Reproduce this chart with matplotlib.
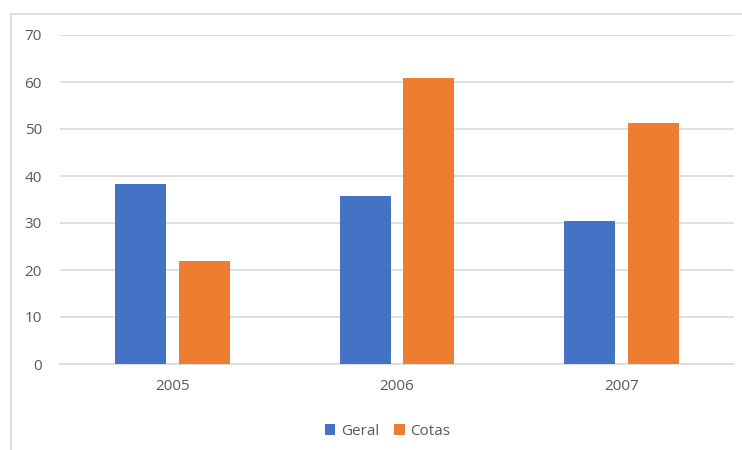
import numpy as np
import matplotlib.pyplot as plt
from matplotlib.patches import Rectangle

years = ["2005", "2006", "2007"]
geral = [38.4, 35.7, 30.5]
cotas = [21.9, 60.9, 51.3]

BLUE = "#4472C4"
ORANGE = "#ED7D31"
TXT = "#595959"
GRID = "#D9D9D9"

plt.rcParams['font.family'] = ['Open Sans', 'DejaVu Sans']

fig = plt.figure(figsize=(7.42, 4.5), dpi=100)
ax = fig.add_axes([60 / 742, 86 / 450, 674 / 742, 329 / 450])

x = np.arange(len(years))
w = 0.227
gap = 0.055
ax.bar(x - (w + gap) / 2, geral, width=w, color=BLUE, label="Geral", zorder=3)
ax.bar(x + (w + gap) / 2, cotas, width=w, color=ORANGE, label="Cotas", zorder=3)

ax.set_xlim(-0.5, 2.5)
ax.set_ylim(0, 70)
ax.set_yticks(range(0, 71, 10))
ax.set_xticks(x)
ax.set_xticklabels(years)
ax.yaxis.grid(True, color=GRID, lw=1.2, zorder=0)
for s in ["top", "right", "left"]:
    ax.spines[s].set_visible(False)
ax.spines["bottom"].set_color(GRID)
ax.spines["bottom"].set_linewidth(1.2)
ax.tick_params(axis="both", length=0, colors=TXT, labelsize=11)
ax.tick_params(axis="x", pad=11)
ax.tick_params(axis="y", pad=13)

ax.legend(loc="center", bbox_to_anchor=(0.486, -0.205), ncol=2,
          frameon=False, fontsize=11, handlelength=0.7, handleheight=0.7,
          columnspacing=1.0, handletextpad=0.35, labelcolor=TXT)

# outer chart border
fig.patches.append(Rectangle((11 / 742, -0.05), 1.1, 1.05 - 13.5 / 450,
                             transform=fig.transFigure, fill=False,
                             edgecolor=GRID, lw=1.2, clip_on=False))

fig.savefig("out.png", dpi=100)
